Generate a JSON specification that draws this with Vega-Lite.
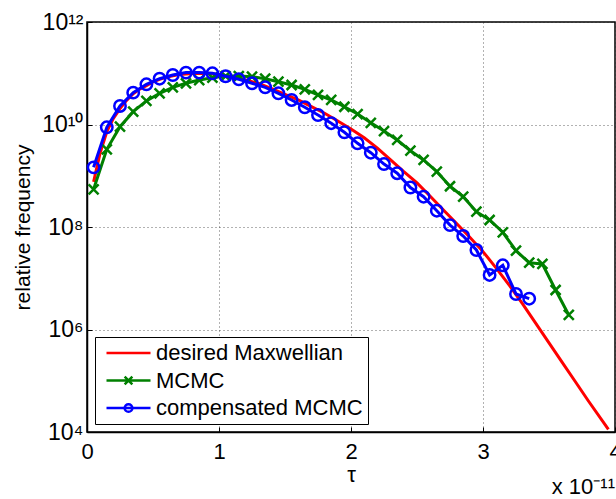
{
  "$schema": "https://vega.github.io/schema/vega-lite/v6.json",
  "width": 528,
  "height": 410,
  "autosize": {"type": "none"},
  "padding": {"left": 87, "top": 22, "right": 1, "bottom": 67},
  "background": "white",
  "config": {
    "view": {"stroke": "black", "strokeWidth": 1.5},
    "font": "Liberation Sans"
  },
  "title": {
    "text": "x 10⁻¹¹",
    "orient": "bottom",
    "anchor": "end",
    "frame": "group",
    "fontSize": 22,
    "fontWeight": "normal",
    "font": "Liberation Sans",
    "color": "black",
    "offset": -8
  },
  "data": {
    "values": [
      {"series": "desired Maxwellian", "tau": 0.05, "freq": 7.59e8},
      {"series": "desired Maxwellian", "tau": 0.1, "freq": 2.82e9},
      {"series": "desired Maxwellian", "tau": 0.15, "freq": 7.24e9},
      {"series": "desired Maxwellian", "tau": 0.2, "freq": 1.32e10},
      {"series": "desired Maxwellian", "tau": 0.25, "freq": 2.04e10},
      {"series": "desired Maxwellian", "tau": 0.3, "freq": 2.95e10},
      {"series": "desired Maxwellian", "tau": 0.35, "freq": 3.98e10},
      {"series": "desired Maxwellian", "tau": 0.4, "freq": 4.9e10},
      {"series": "desired Maxwellian", "tau": 0.45, "freq": 5.75e10},
      {"series": "desired Maxwellian", "tau": 0.5, "freq": 6.76e10},
      {"series": "desired Maxwellian", "tau": 0.55, "freq": 7.59e10},
      {"series": "desired Maxwellian", "tau": 0.6, "freq": 8.32e10},
      {"series": "desired Maxwellian", "tau": 0.65, "freq": 8.91e10},
      {"series": "desired Maxwellian", "tau": 0.7, "freq": 9.44e10},
      {"series": "desired Maxwellian", "tau": 0.8, "freq": 9.89e10},
      {"series": "desired Maxwellian", "tau": 0.9, "freq": 1.0e11},
      {"series": "desired Maxwellian", "tau": 1.0, "freq": 9.44e10},
      {"series": "desired Maxwellian", "tau": 1.1, "freq": 8.51e10},
      {"series": "desired Maxwellian", "tau": 1.2, "freq": 7.41e10},
      {"series": "desired Maxwellian", "tau": 1.3, "freq": 6.31e10},
      {"series": "desired Maxwellian", "tau": 1.4, "freq": 5.01e10},
      {"series": "desired Maxwellian", "tau": 1.5, "freq": 3.89e10},
      {"series": "desired Maxwellian", "tau": 1.6, "freq": 3.02e10},
      {"series": "desired Maxwellian", "tau": 1.7, "freq": 2.24e10},
      {"series": "desired Maxwellian", "tau": 1.8, "freq": 1.66e10},
      {"series": "desired Maxwellian", "tau": 1.9, "freq": 1.17e10},
      {"series": "desired Maxwellian", "tau": 2.0, "freq": 8.13e9},
      {"series": "desired Maxwellian", "tau": 2.1, "freq": 5.5e9},
      {"series": "desired Maxwellian", "tau": 2.2, "freq": 3.47e9},
      {"series": "desired Maxwellian", "tau": 2.3, "freq": 2.04e9},
      {"series": "desired Maxwellian", "tau": 2.4, "freq": 1.2e9},
      {"series": "desired Maxwellian", "tau": 2.5, "freq": 7.24e8},
      {"series": "desired Maxwellian", "tau": 2.6, "freq": 3.98e8},
      {"series": "desired Maxwellian", "tau": 2.7, "freq": 2.14e8},
      {"series": "desired Maxwellian", "tau": 2.8, "freq": 1.17e8},
      {"series": "desired Maxwellian", "tau": 2.9, "freq": 6.31e7},
      {"series": "desired Maxwellian", "tau": 3.0, "freq": 3.31e7},
      {"series": "desired Maxwellian", "tau": 3.1, "freq": 1.58e7},
      {"series": "desired Maxwellian", "tau": 3.2, "freq": 7.24e6},
      {"series": "desired Maxwellian", "tau": 3.3, "freq": 3.16e6},
      {"series": "desired Maxwellian", "tau": 3.4, "freq": 1.32e6},
      {"series": "desired Maxwellian", "tau": 3.5, "freq": 5.5e5},
      {"series": "desired Maxwellian", "tau": 3.6, "freq": 2.29e5},
      {"series": "desired Maxwellian", "tau": 3.7, "freq": 9.55e4},
      {"series": "desired Maxwellian", "tau": 3.8, "freq": 3.98e4},
      {"series": "desired Maxwellian", "tau": 3.95, "freq": 1.12e4},

      {"series": "MCMC", "tau": 0.05, "freq": 5.45e8},
      {"series": "MCMC", "tau": 0.15, "freq": 3.28e9},
      {"series": "MCMC", "tau": 0.25, "freq": 9.06e9},
      {"series": "MCMC", "tau": 0.35, "freq": 1.78e10},
      {"series": "MCMC", "tau": 0.45, "freq": 2.88e10},
      {"series": "MCMC", "tau": 0.55, "freq": 4.06e10},
      {"series": "MCMC", "tau": 0.65, "freq": 5.32e10},
      {"series": "MCMC", "tau": 0.75, "freq": 6.37e10},
      {"series": "MCMC", "tau": 0.85, "freq": 7.38e10},
      {"series": "MCMC", "tau": 0.95, "freq": 8.18e10},
      {"series": "MCMC", "tau": 1.05, "freq": 8.83e10},
      {"series": "MCMC", "tau": 1.15, "freq": 8.83e10},
      {"series": "MCMC", "tau": 1.25, "freq": 8.57e10},
      {"series": "MCMC", "tau": 1.35, "freq": 7.83e10},
      {"series": "MCMC", "tau": 1.45, "freq": 6.84e10},
      {"series": "MCMC", "tau": 1.55, "freq": 5.9e10},
      {"series": "MCMC", "tau": 1.65, "freq": 4.86e10},
      {"series": "MCMC", "tau": 1.75, "freq": 3.77e10},
      {"series": "MCMC", "tau": 1.85, "freq": 3.01e10},
      {"series": "MCMC", "tau": 1.95, "freq": 2.22e10},
      {"series": "MCMC", "tau": 2.05, "freq": 1.6e10},
      {"series": "MCMC", "tau": 2.15, "freq": 1.08e10},
      {"series": "MCMC", "tau": 2.25, "freq": 7.46e9},
      {"series": "MCMC", "tau": 2.35, "freq": 4.99e9},
      {"series": "MCMC", "tau": 2.45, "freq": 3.08e9},
      {"series": "MCMC", "tau": 2.55, "freq": 2.03e9},
      {"series": "MCMC", "tau": 2.65, "freq": 1.2e9},
      {"series": "MCMC", "tau": 2.75, "freq": 6.24e8},
      {"series": "MCMC", "tau": 2.85, "freq": 3.9e8},
      {"series": "MCMC", "tau": 2.95, "freq": 1.99e8},
      {"series": "MCMC", "tau": 3.05, "freq": 1.37e8},
      {"series": "MCMC", "tau": 3.15, "freq": 7.89e7},
      {"series": "MCMC", "tau": 3.25, "freq": 3.45e7},
      {"series": "MCMC", "tau": 3.35, "freq": 2.01e7},
      {"series": "MCMC", "tau": 3.45, "freq": 1.9e7},
      {"series": "MCMC", "tau": 3.55, "freq": 5.9e6},
      {"series": "MCMC", "tau": 3.65, "freq": 1.92e6},

      {"series": "compensated MCMC", "tau": 0.05, "freq": 1.46e9},
      {"series": "compensated MCMC", "tau": 0.15, "freq": 8.81e9},
      {"series": "compensated MCMC", "tau": 0.25, "freq": 2.3e10},
      {"series": "compensated MCMC", "tau": 0.35, "freq": 4.18e10},
      {"series": "compensated MCMC", "tau": 0.45, "freq": 6.08e10},
      {"series": "compensated MCMC", "tau": 0.55, "freq": 7.83e10},
      {"series": "compensated MCMC", "tau": 0.65, "freq": 9.25e10},
      {"series": "compensated MCMC", "tau": 0.75, "freq": 1.03e11},
      {"series": "compensated MCMC", "tau": 0.85, "freq": 1.03e11},
      {"series": "compensated MCMC", "tau": 0.95, "freq": 9.98e10},
      {"series": "compensated MCMC", "tau": 1.05, "freq": 8.71e10},
      {"series": "compensated MCMC", "tau": 1.15, "freq": 7.62e10},
      {"series": "compensated MCMC", "tau": 1.25, "freq": 6.37e10},
      {"series": "compensated MCMC", "tau": 1.35, "freq": 5.32e10},
      {"series": "compensated MCMC", "tau": 1.45, "freq": 4.06e10},
      {"series": "compensated MCMC", "tau": 1.55, "freq": 3.01e10},
      {"series": "compensated MCMC", "tau": 1.65, "freq": 2.17e10},
      {"series": "compensated MCMC", "tau": 1.75, "freq": 1.53e10},
      {"series": "compensated MCMC", "tau": 1.85, "freq": 1.06e10},
      {"series": "compensated MCMC", "tau": 1.95, "freq": 7.05e9},
      {"series": "compensated MCMC", "tau": 2.05, "freq": 4.3e9},
      {"series": "compensated MCMC", "tau": 2.15, "freq": 2.82e9},
      {"series": "compensated MCMC", "tau": 2.25, "freq": 1.69e9},
      {"series": "compensated MCMC", "tau": 2.35, "freq": 1.12e9},
      {"series": "compensated MCMC", "tau": 2.45, "freq": 5.89e8},
      {"series": "compensated MCMC", "tau": 2.55, "freq": 3.9e8},
      {"series": "compensated MCMC", "tau": 2.65, "freq": 2.08e8},
      {"series": "compensated MCMC", "tau": 2.75, "freq": 1.09e8},
      {"series": "compensated MCMC", "tau": 2.85, "freq": 6.67e7},
      {"series": "compensated MCMC", "tau": 2.95, "freq": 3.56e7},
      {"series": "compensated MCMC", "tau": 3.05, "freq": 1.16e7},
      {"series": "compensated MCMC", "tau": 3.15, "freq": 1.79e7},
      {"series": "compensated MCMC", "tau": 3.25, "freq": 4.93e6},
      {"series": "compensated MCMC", "tau": 3.35, "freq": 3.99e6}
    ]
  },
  "encoding": {
    "x": {
      "field": "tau",
      "type": "quantitative",
      "scale": {"domain": [0, 4], "nice": false, "zero": false},
      "axis": {
        "title": "τ",
        "values": [0, 1, 2, 3, 4],
        "format": "d",
        "labelFont": "Liberation Sans",
        "titleFont": "Liberation Sans",
        "labelFontSize": 22,
        "titleFontSize": 22,
        "titleFontWeight": "normal",
        "labelColor": "black",
        "titleColor": "black",
        "domainColor": "black",
        "domainWidth": 1.5,
        "tickColor": "black",
        "tickSize": -5,
        "labelPadding": 14,
        "titlePadding": 2,
        "labelFlush": false,
        "grid": true,
        "gridColor": "#222222",
        "gridDash": [1, 3],
        "gridWidth": 1,
        "gridOpacity": 0.7
      }
    },
    "y": {
      "field": "freq",
      "type": "quantitative",
      "scale": {"type": "log", "domain": [1e4, 1e12], "nice": false},
      "axis": {
        "title": "relative frequency",
        "values": [1e4, 1e6, 1e8, 1e10, 1e12],
        "labelExpr": "datum.value < 1e5 ? '10⁴' : datum.value < 1e7 ? '10⁶' : datum.value < 1e9 ? '10⁸' : datum.value < 1e11 ? '10¹⁰' : '10¹²'",
        "labelFont": "Liberation Sans",
        "titleFont": "Liberation Sans",
        "labelFontSize": 23,
        "titleFontSize": 21,
        "titleFontWeight": "normal",
        "labelColor": "black",
        "titleColor": "black",
        "domainColor": "black",
        "domainWidth": 1.5,
        "tickColor": "black",
        "tickSize": -5,
        "labelPadding": 9,
        "titlePadding": 8,
        "labelFlush": false,
        "grid": true,
        "gridColor": "#222222",
        "gridDash": [1, 3],
        "gridWidth": 1,
        "gridOpacity": 0.7
      }
    }
  },
  "layer": [
    {
      "transform": [{"filter": "datum.series === 'desired Maxwellian'"}],
      "mark": {"type": "line", "strokeWidth": 3, "clip": true},
      "encoding": {
        "color": {
          "field": "series",
          "type": "nominal",
          "scale": {
            "domain": ["desired Maxwellian", "MCMC", "compensated MCMC"],
            "range": ["#ff0000", "#008000", "#0000ff"]
          },
          "legend": {
            "title": null,
            "orient": "bottom-left",
            "offset": 8,
            "padding": 5,
            "strokeColor": "black",
            "fillColor": "white",
            "labelFont": "Liberation Sans",
            "labelFontSize": 22,
            "labelColor": "black",
            "labelOffset": 33,
            "labelLimit": 400,
            "symbolSize": 121,
            "symbolOffset": 1,
            "symbolStrokeWidth": 2.5,
            "symbolFillColor": "transparent",
            "rowPadding": 5.5,
            "symbolType": "M-1,0L7,0",
            "encode": {
              "symbols": {
                "update": {
                  "shape": {"signal": "datum.value === 'MCMC' ? 'M-1,0L7,0M2.3,-0.7L3.7,0.7M2.3,0.7L3.7,-0.7' : datum.value === 'compensated MCMC' ? 'M-1,0L7,0M2.3,0A0.7,0.7 0 1,0 3.7,0A0.7,0.7 0 1,0 2.3,0' : 'M-1,0L7,0'"},
                  "fill": {"value": "transparent"},
                  "strokeWidth": {"value": 2.5}
                }
              }
            }
          }
        }
      }
    },
    {
      "transform": [{"filter": "datum.series === 'MCMC'"}],
      "mark": {"type": "line", "strokeWidth": 3, "clip": true},
      "encoding": {"color": {"field": "series", "type": "nominal"}}
    },
    {
      "transform": [{"filter": "datum.series === 'MCMC'"}],
      "mark": {"type": "point", "shape": "M-1,-1L1,1M-1,1L1,-1", "filled": false, "size": 100, "strokeWidth": 2.5, "color": "#008000", "opacity": 1}
    },
    {
      "transform": [{"filter": "datum.series === 'compensated MCMC'"}],
      "mark": {"type": "line", "strokeWidth": 3, "clip": true},
      "encoding": {"color": {"field": "series", "type": "nominal"}}
    },
    {
      "transform": [{"filter": "datum.series === 'compensated MCMC'"}],
      "mark": {"type": "point", "shape": "circle", "filled": false, "size": 130, "strokeWidth": 2.5, "color": "#0000ff", "opacity": 1}
    }
  ]
}
